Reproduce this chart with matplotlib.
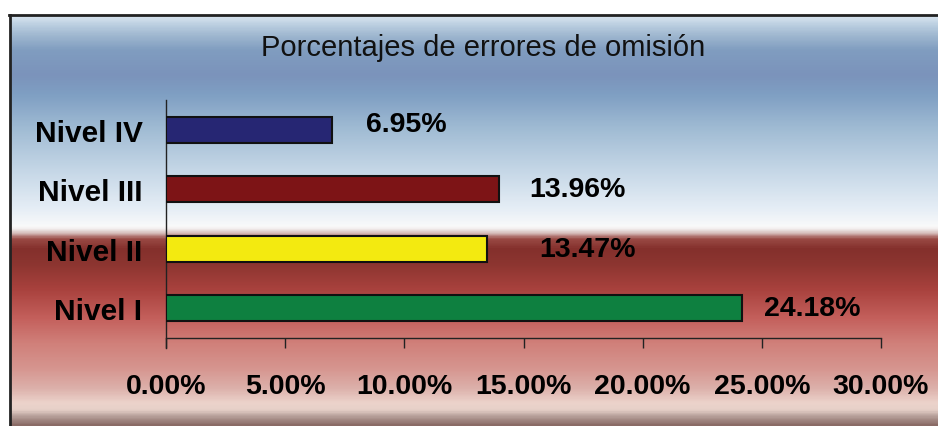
import matplotlib
matplotlib.use("Agg")
import matplotlib.pyplot as plt
import numpy as np
from matplotlib.colors import LinearSegmentedColormap

# ---- data ----
categories = ["Nivel I", "Nivel II", "Nivel III", "Nivel IV"]
values = [24.18, 13.47, 13.96, 6.95]
value_labels = ["24.18%", "13.47%", "13.96%", "6.95%"]
bar_colors = ["#0e8040", "#f3ea10", "#7d1416", "#262673"]
xticks = [0, 5, 10, 15, 20, 25, 30]
xtick_labels = ["0.00%", "5.00%", "10.00%", "15.00%", "20.00%", "25.00%", "30.00%"]
title = "Porcentajes de errores de omisión"

# label offsets (pixels) from bar ends -- style only
label_dx = [22, 52, 31, 34]
label_dy = [0, 0, 0, 6]

W, H = 938, 427
plt.rcParams['font.family'] = ['Liberation Sans', 'DejaVu Sans']
fig = plt.figure(figsize=(W / 100, H / 100), dpi=100)
fig.patch.set_facecolor("white")

# ---- background gradient ----
bg = fig.add_axes([0, 0, 1, 1], zorder=-5)
bg.set_xlim(0, W)
bg.set_ylim(H, 0)
bg.axis("off")
top, bot = 16, 427
stops = [
    (16, "#d8e4ef"), (25, "#bacee0"), (35, "#a0b8d0"), (50, "#809dc0"),
    (75, "#7b93bb"), (95, "#7f9fc3"), (130, "#a1bcd4"), (170, "#c4d6e6"),
    (210, "#e6eef6"), (228, "#fafafa"), (233, "#e0d0ce"), (240, "#9a4a45"),
    (250, "#84302c"), (265, "#8c3530"), (290, "#a8413d"), (320, "#c4605c"),
    (345, "#d0807a"), (370, "#d6958f"), (390, "#dcb0aa"), (405, "#ecd3cb"),
    (412, "#e6d0c8"), (418, "#b8a29c"), (427, "#8a6b66"),
]
cmap = LinearSegmentedColormap.from_list(
    "bg", [((y - top) / (bot - top), c) for y, c in stops])
grad = np.linspace(0, 1, 600).reshape(-1, 1)
bg.imshow(grad, cmap=cmap, aspect="auto", extent=[10, W, bot, top],
          interpolation="bilinear")
bg.plot([10, 10], [H, 15.5], color="#222222", lw=2)
bg.plot([9, W], [15.5, 15.5], color="#222222", lw=2)

# ---- main axes ----
ax = fig.add_axes([166 / W, 1 - 339 / H, (881 - 166) / W, (339 - 101) / H])
ax.set_facecolor("none")
y = np.arange(len(categories))
ax.barh(y, values, height=0.44, color=bar_colors, edgecolor="#111111",
        linewidth=1.5, zorder=3)
ax.set_xlim(0, 30)
ax.set_ylim(-0.5, len(categories) - 0.5)
ax.set_xticks(xticks)
ax.set_xticklabels(xtick_labels, fontsize=20.5, fontweight="bold", color="black")
ax.set_yticks(y)
ax.set_yticklabels(categories, fontsize=21.5, fontweight="bold", color="black")
ax.tick_params(axis="x", direction="out", length=7.5, width=1,
               color="#222222", pad=18)
ax.tick_params(axis="y", length=0, pad=17)
for s in ["top", "right"]:
    ax.spines[s].set_visible(False)
for s in ["left", "bottom"]:
    ax.spines[s].set_color("#222222")
    ax.spines[s].set_linewidth(1)
ax.spines["left"].set_bounds(-0.5 - 10 / 59.5, len(categories) - 0.5)

for i, (v, lab) in enumerate(zip(values, value_labels)):
    ax.annotate(lab, (v, y[i]), xytext=(label_dx[i] * 0.72, label_dy[i] * 0.72),
                textcoords="offset points", ha="left", va="center",
                fontsize=20.5, fontweight="bold", color="black")

fig.text(483 / W, 1 - 48 / H, title, ha="center", va="center",
         fontsize=21, color="#111111")

fig.savefig("out.png", dpi=100)
